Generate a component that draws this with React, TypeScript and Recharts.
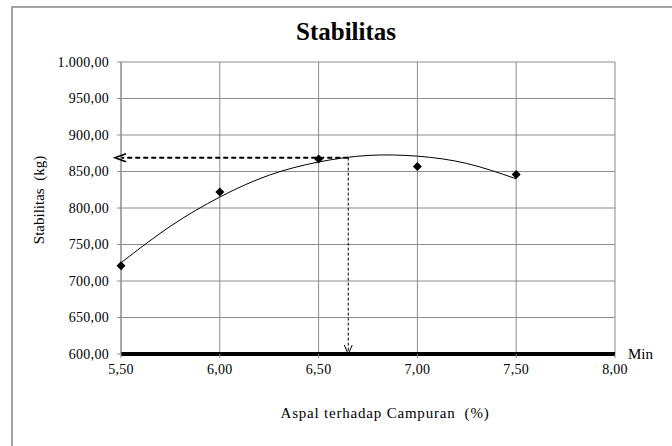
import React from 'react'
import {
  ComposedChart, Line, Scatter, XAxis, YAxis, CartesianGrid, ReferenceLine,
} from 'recharts'

// kadar aspal (%) dan stabilitas hasil uji
const kadarAspal = [5.5, 6.0, 6.5, 7.0, 7.5]
const stabilitas = [721, 822, 867, 857, 846]

// garis trend (dibaca dari kurva pada gambar)
const trendX = [5.5, 5.75, 6.0, 6.25, 6.5, 6.75, 7.0, 7.25, 7.5]
const trendY = [725, 775, 815, 845, 863, 872, 871, 861, 840]

const xTicks = [5.5, 6.0, 6.5, 7.0, 7.5, 8.0]
const yTicks = [600, 650, 700, 750, 800, 850, 900, 950, 1000]

const minStabilitas = 600
const kadarOptimum = 6.65
const stabilitasOptimum = 869

const FONT = '"Liberation Serif", "Times New Roman", serif'
const GRID = '#8c8c8c'

const pointData = kadarAspal.map((x, i) => ({ x, stab: stabilitas[i] }))
const trendData = trendX.map((x, i) => ({ x, trend: trendY[i] }))
const hArrow = [
  { x: kadarOptimum, v: stabilitasOptimum },
  { x: kadarAspal[0], v: stabilitasOptimum },
]
const vArrow = [
  { x: kadarOptimum, v: stabilitasOptimum },
  { x: kadarOptimum, v: minStabilitas },
]

const fmtY = (v: number) => {
  const [int, dec] = v.toFixed(2).split('.')
  return int.replace(/\B(?=(\d{3})+(?!\d))/g, '.') + ',' + dec
}
const fmtX = (v: number) => v.toFixed(2).replace('.', ',')

const Diamond = (props: any) => {
  const { cx, cy } = props
  const r = 4.5
  return (
    <path
      d={`M${cx},${cy - r} L${cx + r},${cy} L${cx},${cy + r} L${cx - r},${cy} Z`}
      fill="#000"
    />
  )
}

const leftHead = (props: any) => {
  const { cx, cy, index } = props
  if (index !== 1) return <g key={`h${index}`} />
  return (
    <path
      key={`h${index}`}
      d={`M${cx + 5},${cy - 4} L${cx - 6},${cy} L${cx + 5},${cy + 4}`}
      fill="none"
      stroke="#000"
      strokeWidth={1.6}
    />
  )
}

const downHead = (props: any) => {
  const { cx, cy, index } = props
  if (index !== 1) return <g key={`v${index}`} />
  return (
    <path
      key={`v${index}`}
      d={`M${cx - 4},${cy - 9} L${cx},${cy} L${cx + 4},${cy - 9}`}
      fill="none"
      stroke="#000"
      strokeWidth={1}
    />
  )
}

const tickStyle = { fill: '#000', fontSize: 14, fontFamily: FONT, letterSpacing: 0.3 }

export default function App() {
  return (
    <div
      style={{
        position: 'fixed', left: 0, top: 0, width: 672, height: 446,
        background: '#fff', overflow: 'hidden', fontFamily: FONT,
      }}
    >
      <div
        style={{
          position: 'absolute', left: 11, top: 6, width: 700, height: 500,
          borderTop: '2px solid #a4a4a4', borderLeft: '2px solid #a4a4a4',
        }}
      />
      <div style={{ position: 'absolute', left: 0, top: 0, fontFamily: FONT }}>
        <ComposedChart
          width={672}
          height={446}
          margin={{ top: 62, right: 57, bottom: 62, left: 0 }}
          style={{ fontFamily: FONT }}
        >
          <CartesianGrid stroke={GRID} strokeWidth={1} />
          <XAxis
            dataKey="x"
            type="number"
            domain={[5.5, 8]}
            ticks={xTicks}
            tickFormatter={fmtX}
            tick={tickStyle}
            tickSize={4}
            tickMargin={6}
            height={30}
            axisLine={false}
            tickLine={{ stroke: GRID }}
          />
          <YAxis
            type="number"
            domain={[600, 1000]}
            ticks={yTicks}
            tickFormatter={fmtY}
            tick={tickStyle}
            tickSize={4}
            tickMargin={8}
            width={121}
            axisLine={{ stroke: GRID }}
            tickLine={{ stroke: GRID }}
          />
          <ReferenceLine
            y={minStabilitas}
            stroke="#000"
            strokeWidth={4}
            label={{ value: 'Min', position: 'right', offset: 13, fill: '#000', fontSize: 15, fontFamily: FONT }}
          />
          <Line
            data={trendData}
            dataKey="trend"
            type="natural"
            stroke="#000"
            strokeWidth={1}
            dot={false}
            activeDot={false}
            isAnimationActive={false}
          />
          <Line
            data={hArrow}
            dataKey="v"
            type="linear"
            stroke="#000"
            strokeWidth={2}
            strokeDasharray="5 3"
            dot={leftHead}
            activeDot={false}
            isAnimationActive={false}
          />
          <Line
            data={vArrow}
            dataKey="v"
            type="linear"
            stroke="#000"
            strokeWidth={1}
            strokeDasharray="3 2"
            dot={downHead}
            activeDot={false}
            isAnimationActive={false}
          />
          <Scatter
            data={pointData}
            dataKey="stab"
            shape={Diamond}
            isAnimationActive={false}
          />
        </ComposedChart>
      </div>
      <div
        style={{
          position: 'absolute', left: 296, top: 17, fontSize: 25, fontWeight: 'bold',
          color: '#000', lineHeight: '30px', whiteSpace: 'nowrap', fontFamily: FONT,
        }}
      >
        Stabilitas
      </div>
      <div
        style={{
          position: 'absolute', left: 39, top: 200, fontSize: 15, color: '#000',
          whiteSpace: 'pre', fontFamily: FONT,
          transform: 'translate(-50%, -50%) rotate(-90deg)',
        }}
      >
        {'Stabilitas  (kg)'}
      </div>
      <div
        style={{
          position: 'absolute', left: 385, top: 413, fontSize: 15, color: '#000',
          whiteSpace: 'pre', letterSpacing: 0.8, fontFamily: FONT,
          transform: 'translate(-50%, -50%)',
        }}
      >
        {'Aspal terhadap Campuran  (%)'}
      </div>
    </div>
  )
}
